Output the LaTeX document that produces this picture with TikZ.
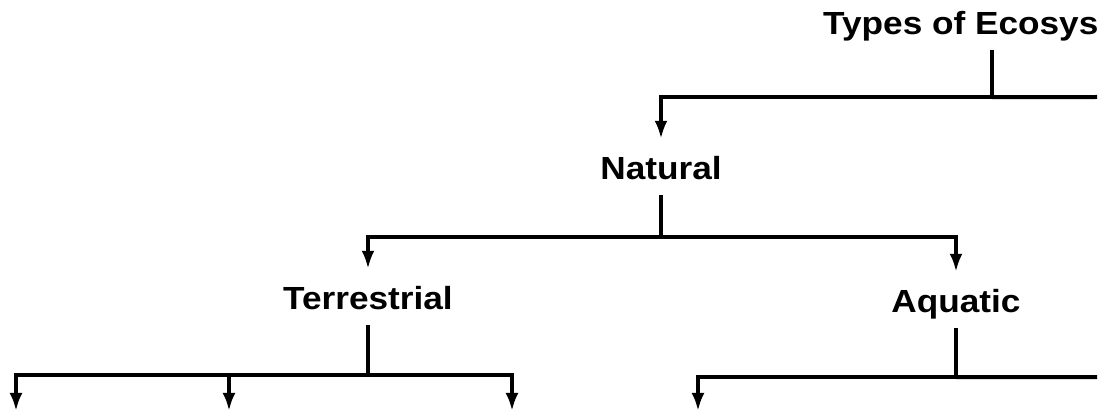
\documentclass[tikz,border=0pt]{standalone}
\usepackage{fontspec}
\newfontfamily\ecofont{Liberation Sans}[FakeStretch=1.1]
\usetikzlibrary{arrows.meta}

\begin{document}
\begin{tikzpicture}[x=1pt, y=1pt,
  lbl/.style={font=\ecofont\bfseries\fontsize{32}{36}\selectfont, inner sep=0pt, text height=41pt, text depth=15pt},
  bar/.style={line width=4pt},
  link/.style={bar, -{Latex[length=18pt,width=13pt]}}]
  \useasboundingbox (0,0) rectangle (1113,411);

  % Labels
  \node[lbl, anchor=base west] (eco) at (823,376) {Types of Ecosys};
  \node[lbl, anchor=base] (natural) at (661,231) {Natural};
  \node[lbl, anchor=base] (terr) at (368,101) {Terrestrial};
  \node[lbl, anchor=base] (aqua) at (956,98) {Aquatic};

  \begin{scope}
  \clip (0,0) rectangle (1097,411);

  % Free ends (cut off by the frame)
  \coordinate (ecoR) at (1100,314);
  \coordinate (aquaR) at (1100,34);
  \coordinate (t1) at (16,0);
  \coordinate (t2) at (229,0);
  \coordinate (t3) at (512,0);
  \coordinate (a1) at (698,0);

  % Top level
  \draw[link] ([xshift=31pt]eco.south) -- ++(0,-47) -| (natural.north);
  \draw[bar] ([xshift=31pt]eco.south) ++(0,-47) -- (ecoR);

  % Natural
  \draw[link] (natural.south) -- ++(0,-42) -| (terr.north);
  \draw[link] (natural.south) -- ++(0,-42) -| (aqua.north);

  % Terrestrial and Aquatic
  \foreach \c in {t1,t2,t3}
    \draw[link] (terr.south) -- ++(0,-50) -| (\c);
  \draw[link] (aqua.south) -- ++(0,-49) -| (a1);
  \draw[bar] (aqua.south) ++(0,-49) -- (aquaR);
  \end{scope}
\end{tikzpicture}
\end{document}
